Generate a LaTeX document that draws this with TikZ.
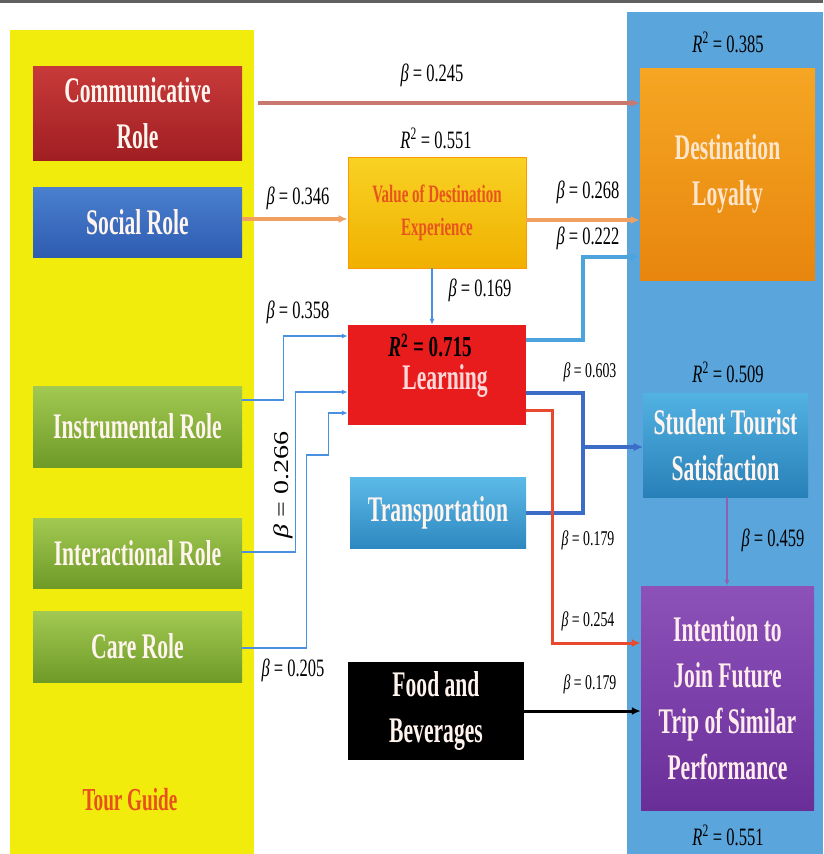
\documentclass[tikz,border=0pt]{standalone}
\usepackage{fontspec}
\usetikzlibrary{arrows.meta}
\newfontfamily\boxf[FakeStretch=0.6]{Liberation Serif}
\newfontfamily\labf[FakeStretch=0.66]{Liberation Serif}
\newfontfamily\rotf{Liberation Serif}
\definecolor{panelyellow}{HTML}{F2EC0C}
\definecolor{panelblue}{HTML}{5AA5DC}
\definecolor{commtop}{HTML}{C83A3A}
\definecolor{commbot}{HTML}{A01E22}
\definecolor{soctop}{HTML}{4A80D0}
\definecolor{socbot}{HTML}{2E5CB0}
\definecolor{grtop}{HTML}{A2CA52}
\definecolor{grbot}{HTML}{6E9A28}
\definecolor{vdetop}{HTML}{F8D224}
\definecolor{vdebot}{HTML}{F0B000}
\definecolor{vdetext}{HTML}{E8541E}
\definecolor{learnred}{HTML}{E81C1C}
\definecolor{trtop}{HTML}{5CBAE8}
\definecolor{trbot}{HTML}{2E88C0}
\definecolor{loytop}{HTML}{F5A623}
\definecolor{loybot}{HTML}{E8860E}
\definecolor{sattop}{HTML}{52B2E2}
\definecolor{satbot}{HTML}{2880B8}
\definecolor{inttop}{HTML}{8C52BA}
\definecolor{intbot}{HTML}{6A2E98}
\definecolor{commline}{HTML}{C8786E}
\definecolor{orangeline}{HTML}{F0A060}
\definecolor{thinblue}{HTML}{4A90E0}
\definecolor{midblue}{HTML}{4DA3DC}
\definecolor{deepblue}{HTML}{3A6CC8}
\definecolor{redline}{HTML}{E84A30}
\definecolor{purpleline}{HTML}{9060B0}
\definecolor{guidetext}{HTML}{E8501E}
\definecolor{softwhite}{HTML}{FFF4EE}
\tikzset{
  rolebox/.style={inner sep=0pt, align=center, text=softwhite,
    font=\boxf\bfseries\fontsize{36}{46}\selectfont},
  lab/.style={inner sep=1pt, font=\labf\fontsize{25}{25}\selectfont},
  smalllab/.style={inner sep=1pt, font=\labf\fontsize{21}{21}\selectfont},
  tip/.style={-{Latex[length=9pt,width=8pt]}},
  smalltip/.style={-{Latex[length=6pt,width=5pt]}},
  commarrow/.style={tip, draw=commline, line width=4pt},
  orangearrow/.style={tip, draw=orangeline, line width=4pt},
  thinarrow/.style={smalltip, draw=thinblue, line width=1.2pt},
  midarrow/.style={tip, draw=midblue, line width=3.5pt},
  deeparrow/.style={tip, draw=deepblue, line width=4pt},
  redarrow/.style={tip, draw=redline, line width=3pt},
  blackarrow/.style={tip, draw=black, line width=3pt},
  purplearrow/.style={smalltip, draw=purpleline, line width=1.5pt}
}
\begin{document}
\begin{tikzpicture}[x=1pt,y=-1pt]
\useasboundingbox (0,0) rectangle (823,854);
\fill[white] (0,0) rectangle (823,854);
% panels
\fill[gray!75!black] (0,0) rectangle (823,3);
\fill[panelyellow] (10,30) rectangle (254,854);
\fill[panelblue] (627,12) rectangle (823,854);

% left boxes
\node[rolebox, top color=commtop, bottom color=commbot, minimum width=209pt, minimum height=94pt] (comm) at (137.5,113) {Communicative\\Role};
\node[rolebox, top color=soctop, bottom color=socbot, minimum width=209pt, minimum height=70pt] (social) at (137.5,222) {Social Role};
\node[rolebox, top color=grtop, bottom color=grbot, minimum width=209pt, minimum height=81pt] (instr) at (137.5,426.5) {Instrumental Role};
\node[rolebox, top color=grtop, bottom color=grbot, minimum width=209pt, minimum height=70pt] (inter) at (137.5,553) {Interactional Role};
\node[rolebox, top color=grtop, bottom color=grbot, minimum width=209pt, minimum height=71pt] (care) at (137.5,646.5) {Care Role};
\node[inner sep=0pt, text=guidetext, font=\boxf\bfseries\fontsize{32}{32}\selectfont] (guide) at (130,800) {Tour Guide};

% middle boxes
\node[rolebox, top color=vdetop, bottom color=vdebot, draw=orange!80!yellow, line width=0.8pt, text=vdetext, font=\boxf\bfseries\fontsize{25}{33}\selectfont, minimum width=178pt, minimum height=111pt] (vde) at (437,212.5) {Value of Destination\\Experience};
\node[rolebox, fill=learnred, minimum width=178pt, minimum height=100pt] (learn) at (437,375) {};
\node[rolebox, text=red!15!white] (learntext) at (445,381) {Learning};
\node[inner sep=0pt, font=\labf\bfseries\fontsize{29}{29}\selectfont] (r715) at (430,345) {\textit{R}\textsuperscript{2} = 0.715};
\node[rolebox, top color=trtop, bottom color=trbot, minimum width=176pt, minimum height=71pt] (trans) at (438,512.5) {Transportation};
\node[rolebox, fill=black, minimum width=176pt, minimum height=98pt] (food) at (436,711) {Food and\\Beverages};

% right boxes
\node[rolebox, top color=loytop, bottom color=loybot, text=orange!20!white, minimum width=175pt, minimum height=212pt] (loyal) at (727.5,174) {Destination\\Loyalty};
\node[rolebox, top color=sattop, bottom color=satbot, minimum width=165pt, minimum height=104pt] (sat) at (725.5,445) {Student Tourist\\Satisfaction};
\node[rolebox, top color=inttop, bottom color=intbot, text=pink!30!white, minimum width=173pt, minimum height=224pt] (intent) at (727.5,698) {Intention to\\Join Future\\Trip of Similar\\Performance};

% connectors
\draw[commarrow] ([xshift=16pt,yshift=10pt]comm.east) coordinate (c1) -- (c1 -| loyal.west);
\draw[orangearrow] ([yshift=3pt]social.east) coordinate (s1) -- (s1 -| vde.west);
\draw[orangearrow] ([yshift=-7.5pt]vde.east) coordinate (v1) -- (v1 -| loyal.west);
\draw[thinarrow] ([xshift=-5pt]vde.south) coordinate (v2) -- (v2 |- learn.north);
\draw[thinarrow] ([yshift=26.5pt]instr.east) -- ++(41,0) |- ([yshift=39pt]learn.west);
\draw[thinarrow] ([yshift=1pt]inter.east) -- ++(53,0) |- ([yshift=-17pt]learn.west);
\draw[thinarrow] ([yshift=-1.5pt]care.east) -- ++(64,0) -- ++(0,-193) -- ++(22,0) |- ([yshift=-38pt]learn.west);
\draw[midarrow] ([yshift=35pt]learn.east) -- ++(57,0) |- ([yshift=-83pt]loyal.west);
\draw[deeparrow] ([yshift=-18pt]learn.east) -- ++(57,0) |- ([yshift=-2pt]sat.west);
\draw[deeparrow] (trans.east) -- ++(57,0) |- ([yshift=-2pt]sat.west);
\draw[redarrow] ([yshift=-35pt]learn.east) -- ++(26,0) |- ([yshift=55pt]intent.west);
\draw[blackarrow] (food.east) -- (food.east -| intent.west);
\draw[purplearrow] ([xshift=1.5pt]sat.south) coordinate (p1) -- (p1 |- intent.north);

% labels
\node[lab] (l245) at (432,75) {\textit{β} = 0.245};
\node[lab] (r551a) at (436,138) {\textit{R}\textsuperscript{2} = 0.551};
\node[lab] (l346) at (298,198) {\textit{β} = 0.346};
\node[lab] (l268) at (588,192) {\textit{β} = 0.268};
\node[lab] (l222) at (588,238) {\textit{β} = 0.222};
\node[lab] (l169) at (480,290) {\textit{β} = 0.169};
\node[lab] (l358) at (298,312) {\textit{β} = 0.358};
\node[smalllab] (l603) at (590,372) {\textit{β} = 0.603};
\node[inner sep=1pt, rotate=90, font=\rotf\fontsize{28}{28}\selectfont] (l266) at (283,485) {\scalebox{1}[0.75]{\textit{β} = 0.266}};
\node[smalllab] (l179a) at (588,540) {\textit{β} = 0.179};
\node[smalllab] (l254) at (588,621) {\textit{β} = 0.254};
\node[lab] (l205) at (293,670) {\textit{β} = 0.205};
\node[smalllab] (l179b) at (590,684) {\textit{β} = 0.179};
\node[lab] (l459) at (773,540) {\textit{β} = 0.459};
\node[lab] (r385) at (728,42) {\textit{R}\textsuperscript{2} = 0.385};
\node[lab] (r509) at (728,372) {\textit{R}\textsuperscript{2} = 0.509};
\node[lab] (r551b) at (728,835) {\textit{R}\textsuperscript{2} = 0.551};
\end{tikzpicture}
\end{document}
